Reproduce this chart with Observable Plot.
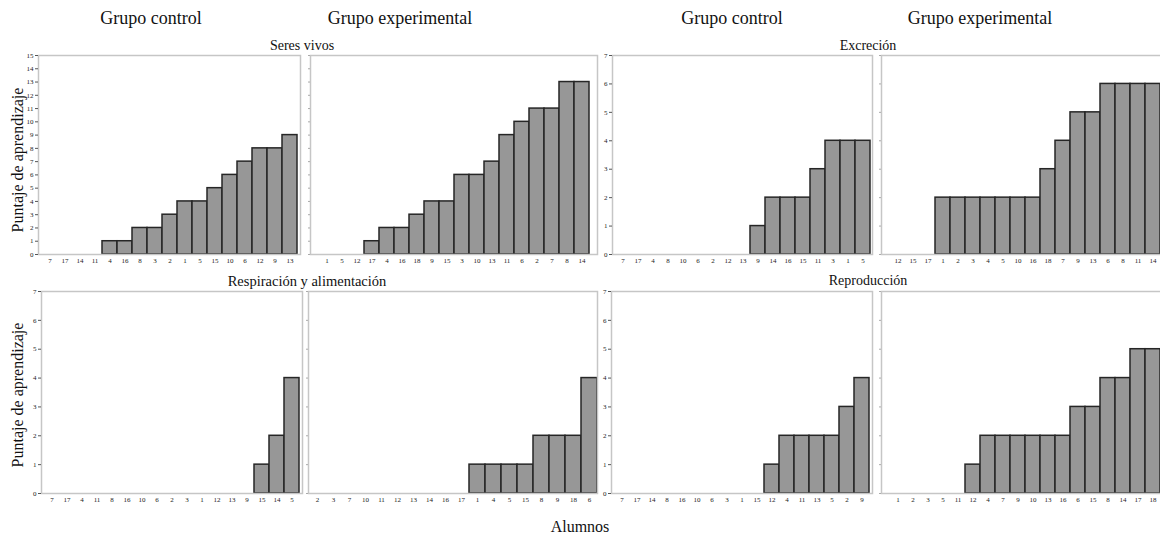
<!DOCTYPE html>
<html>
<head>
<meta charset="utf-8">
<script src="https://cdn.jsdelivr.net/npm/d3@7"></script>
<script src="https://cdn.jsdelivr.net/npm/@observablehq/plot@0.6"></script>
<style>
  html, body { margin: 0; padding: 0; background: #fff; }
  #wrap { position: relative; width: 1160px; height: 540px; overflow: hidden; font-family: "Liberation Serif", "DejaVu Serif", serif; color: #111; }
  .lbl { position: absolute; transform: translate(-50%, -50%); white-space: nowrap; }
  .panel { position: absolute; }
  .panel svg { overflow: visible; max-width: none !important; display: block; }
</style>
</head>
<body>
<div id="wrap"></div>
<script>
// ---- Data (student ids in plotted order, and learning scores) ----
const seresControlIds = [7, 17, 14, 11, 4, 16, 8, 3, 2, 1, 5, 15, 10, 6, 12, 9, 13];
const seresControlScores = [0, 0, 0, 0, 1, 1, 2, 2, 3, 4, 4, 5, 6, 7, 8, 8, 9];
const seresExpIds = [1, 5, 12, 17, 4, 16, 18, 9, 15, 3, 10, 13, 11, 6, 2, 7, 8, 14];
const seresExpScores = [0, 0, 0, 1, 2, 2, 3, 4, 4, 6, 6, 7, 9, 10, 11, 11, 13, 13];

const excrControlIds = [7, 17, 4, 8, 10, 6, 2, 12, 13, 9, 14, 16, 15, 11, 3, 1, 5];
const excrControlScores = [0, 0, 0, 0, 0, 0, 0, 0, 0, 1, 2, 2, 2, 3, 4, 4, 4];
const excrExpIds = [12, 15, 17, 1, 2, 3, 4, 5, 10, 16, 18, 7, 9, 13, 6, 8, 11, 14];
const excrExpScores = [0, 0, 0, 2, 2, 2, 2, 2, 2, 2, 3, 4, 5, 5, 6, 6, 6, 6];

const respControlIds = [7, 17, 4, 11, 8, 16, 10, 6, 2, 3, 1, 12, 13, 9, 15, 14, 5];
const respControlScores = [0, 0, 0, 0, 0, 0, 0, 0, 0, 0, 0, 0, 0, 0, 1, 2, 4];
const respExpIds = [2, 3, 7, 10, 11, 12, 13, 14, 16, 17, 1, 4, 5, 15, 8, 9, 18, 6];
const respExpScores = [0, 0, 0, 0, 0, 0, 0, 0, 0, 0, 1, 1, 1, 1, 2, 2, 2, 4];

const reproControlIds = [7, 17, 14, 8, 16, 10, 6, 3, 1, 15, 12, 4, 11, 13, 5, 2, 9];
const reproControlScores = [0, 0, 0, 0, 0, 0, 0, 0, 0, 0, 1, 2, 2, 2, 2, 3, 4];
const reproExpIds = [1, 2, 3, 5, 11, 12, 4, 7, 9, 10, 13, 16, 6, 15, 8, 14, 17, 18];
const reproExpScores = [0, 0, 0, 0, 0, 1, 2, 2, 2, 2, 2, 2, 3, 3, 4, 4, 5, 5];

const groupTitles = ["Grupo control", "Grupo experimental", "Grupo control", "Grupo experimental"];
const topicTitles = ["Seres vivos", "Excreción", "Respiración y alimentación", "Reproducción"];
const yTitle = "Puntaje de aprendizaje";
const xTitle = "Alumnos";

// ---- Layout ----
const wrap = document.getElementById("wrap");
const ML = 16, MR = 4, MT = 6, MB = 16;

const panels = [
  {ids: seresControlIds, vals: seresControlScores, ymax: 15, fx: 38, fy: 55, fw: 262, fh: 199, labels: true},
  {ids: seresExpIds, vals: seresExpScores, ymax: 15, fx: 310, fy: 55, fw: 287, fh: 199, labels: false},
  {ids: excrControlIds, vals: excrControlScores, ymax: 7, fx: 612, fy: 55, fw: 260, fh: 199, labels: true},
  {ids: excrExpIds, vals: excrExpScores, ymax: 7, fx: 881, fy: 55, fw: 287, fh: 199, labels: false},
  {ids: respControlIds, vals: respControlScores, ymax: 7, fx: 41, fy: 291, fw: 261, fh: 202, labels: true},
  {ids: respExpIds, vals: respExpScores, ymax: 7, fx: 308, fy: 291, fw: 289, fh: 202, labels: false},
  {ids: reproControlIds, vals: reproControlScores, ymax: 7, fx: 611, fy: 291, fw: 261, fh: 202, labels: true},
  {ids: reproExpIds, vals: reproExpScores, ymax: 7, fx: 881, fy: 291, fw: 287, fh: 202, labels: false}
];

for (const p of panels) {
  const data = p.ids.map((id, i) => ({id: String(id), v: p.vals[i]}));
  const w = p.fw + ML + MR, h = p.fh + MT + MB;
  const chart = Plot.plot({
    width: w,
    height: h,
    marginLeft: ML, marginRight: MR, marginTop: MT, marginBottom: MB,
    style: {fontFamily: "Liberation Serif, serif", background: "transparent", color: "#222"},
    x: {type: "band", domain: data.map(d => d.id), padding: 0},
    y: {domain: [0, p.ymax]},
    marks: [
      Plot.barY(data.filter(d => d.v > 0), {x: "id", y: "v", fill: "#979797", stroke: "#262626", strokeWidth: 1.5}),
      Plot.frame({stroke: "#c6c6c6", strokeWidth: 1.5}),
      Plot.axisX({tickSize: 0, tickPadding: 4, fontSize: 7, label: null}),
      Plot.axisY({ticks: d3.range(0, p.ymax + 1), tickSize: p.labels ? 3 : 2, tickPadding: 2, fontSize: 7, label: null,
                  stroke: p.labels ? "#555" : "#aaa",
                  tickFormat: p.labels ? d3.format("d") : () => ""})
    ]
  });
  const div = document.createElement("div");
  div.className = "panel";
  div.style.left = (p.fx - ML) + "px";
  div.style.top = (p.fy - MT) + "px";
  div.style.width = w + "px";
  div.style.height = h + "px";
  div.appendChild(chart);
  wrap.appendChild(div);
}

function addText(txt, x, y, size, rotate) {
  const d = document.createElement("div");
  d.className = "lbl";
  d.textContent = txt;
  d.style.left = x + "px";
  d.style.top = y + "px";
  d.style.fontSize = size + "px";
  if (rotate) d.style.transform = "translate(-50%, -50%) rotate(-90deg)";
  wrap.appendChild(d);
}

const groupX = [151, 400, 732, 980];
groupTitles.forEach((t, i) => addText(t, groupX[i], 18, 18));
addText(topicTitles[0], 302, 46, 14);
addText(topicTitles[1], 868, 46, 14);
addText(topicTitles[2], 307, 281, 14.5);
addText(topicTitles[3], 868, 281, 14);
addText(yTitle, 18, 160, 16, true);
addText(yTitle, 18, 395, 16, true);
addText(xTitle, 580, 527, 16);
</script>
</body>
</html>
